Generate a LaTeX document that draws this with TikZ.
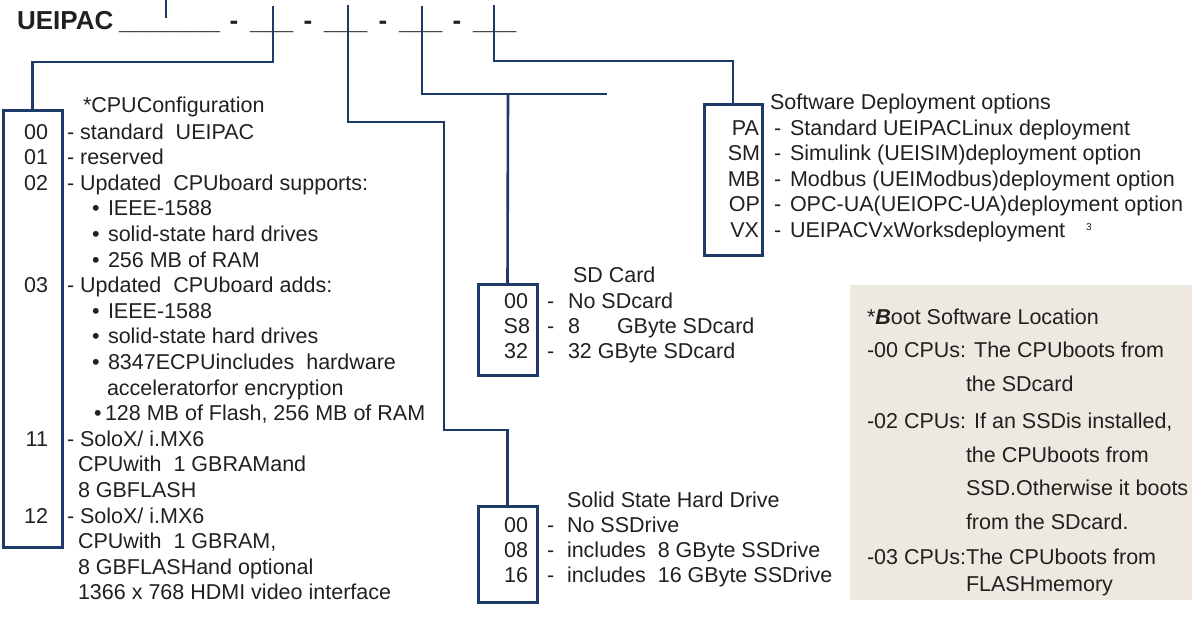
\documentclass[tikz,border=0pt]{standalone}
\usepackage{fontspec}
\setmainfont{Liberation Sans}
\definecolor{navy}{RGB}{30,58,105}
\definecolor{ink}{RGB}{35,31,32}
\definecolor{beige}{RGB}{237,233,224}
\begin{document}
\begin{tikzpicture}[x=1pt,y=-1pt,
  conn/.style={draw=navy, line width=2.6pt},
  codebox/.style={draw=navy, line width=3pt, inner sep=0pt, outer sep=0pt, anchor=north west},
  txt/.style={anchor=base west, inner sep=0pt, outer sep=0pt, text=ink, font=\fontsize{21.5}{25}\selectfont},
  code/.style={anchor=base east, inner sep=0pt, outer sep=0pt, text=ink, font=\fontsize{21.5}{25}\selectfont},
  ttl/.style={anchor=base west, inner sep=0pt, outer sep=0pt, text=ink, font=\fontsize{26}{30}\selectfont\bfseries}]
\useasboundingbox (0,0) rectangle (1196,626);

% title
\node[ttl] (ttl) at (17,30) {UEIPAC};
\node[ttl] (ua) at (119,30) {\_\_\_\_\_\_\_};
\node[ttl, anchor=base] (h1) at (234,30) {-};
\node[ttl] (ub) at (250,30) {\_\_\_};
\node[ttl, anchor=base] (h2) at (308,30) {-};
\node[ttl] (uc) at (324,30) {\_\_\_};
\node[ttl, anchor=base] (h3) at (383,30) {-};
\node[ttl] (ud) at (399,30) {\_\_\_};
\node[ttl, anchor=base] (h4) at (457,30) {-};
\node[ttl] (ue) at (473,30) {\_\_\_};

% boxes
\node[codebox, minimum width=59pt, minimum height=437pt] (cpubox) at (3,110) {};
\node[codebox, minimum width=59pt, minimum height=91pt] (sdbox) at (478,284) {};
\node[codebox, minimum width=59pt, minimum height=96pt] (ssdbox) at (478,506) {};
\node[codebox, minimum width=58pt, minimum height=151pt] (swbox) at (704,104) {};
\node[fill=beige, inner sep=0pt, outer sep=0pt, anchor=north west, minimum width=342pt, minimum height=315pt] (bootbox) at (850,285) {};

% connectors
\coordinate (t0a) at (166,0);
\coordinate (t0b) at (166,18);
\coordinate (t1) at (273,6);
\coordinate (t2) at (348,5);
\coordinate (t3) at (422,6);
\coordinate (t4) at (494,5);
\coordinate (sdend) at (607,94);
\coordinate (sdjoin) at (508,94);
\draw[conn] (t0a) -- (t0b);
\draw[conn] (t1) -- (273,62) -| (cpubox.north);
\draw[conn] (t2) -- (348,122) -- (444,122) -- (444,430) -| (ssdbox.north);
\draw[conn] (t3) -- (422,94) -- (sdend);
\draw[conn] (sdjoin) -- (sdbox.north);
\draw[conn] (t4) -- (494,61) -| (swbox.north);

% CPU configuration
\node[txt] (cpuhead) at (83,112.5) {*CPUConfiguration};
\node[code] (n00) at (48,139) {00};
\node[txt] (c0) at (67,139) {- standard\ \ UEIPAC};
\node[code] (n01) at (48,164.6) {01};
\node[txt] (c1) at (67,164.6) {- reserved};
\node[code] (n02) at (48,190.2) {02};
\node[txt] (c2) at (67,190.2) {- Updated\ \ CPUboard supports:};
\node[txt] (b3) at (92,215.8) {•};
\node[txt] (c3) at (108,215.8) {IEEE-1588};
\node[txt] (b4) at (92,241.4) {•};
\node[txt] (c4) at (108,241.4) {solid-state hard drives};
\node[txt] (b5) at (92,267) {•};
\node[txt] (c5) at (108,267) {256 MB of RAM};
\node[code] (n03) at (48,292.6) {03};
\node[txt] (c6) at (67,292.6) {- Updated\ \ CPUboard adds:};
\node[txt] (b7) at (92,318.2) {•};
\node[txt] (c7) at (108,318.2) {IEEE-1588};
\node[txt] (b8) at (92,343.8) {•};
\node[txt] (c8) at (108,343.8) {solid-state hard drives};
\node[txt] (b9) at (92,369.4) {•};
\node[txt] (c9) at (108,369.4) {8347ECPUincludes\ \ hardware};
\node[txt] (c10) at (107,395) {acceleratorfor encryption};
\node[txt] (b11) at (94,420.6) {•};
\node[txt] (c11) at (105,420.6) {128 MB of Flash, 256 MB of RAM};
\node[code] (n11) at (48,446.2) {11};
\node[txt] (c12) at (67,446.2) {- SoloX/ i.MX6};
\node[txt] (c13) at (78,471.8) {CPUwith\ \ 1 GBRAMand};
\node[txt] (c14) at (78,497.4) {8 GBFLASH};
\node[code] (n12) at (48,523) {12};
\node[txt] (c15) at (67,523) {- SoloX/ i.MX6};
\node[txt] (c16) at (78,548.6) {CPUwith\ \ 1 GBRAM,};
\node[txt] (c17) at (78,574.2) {8 GBFLASHand optional};
\node[txt] (c18) at (78,599.8) {1366 x 768 HDMI video interface};

% SD card
\node[txt] (sdhead) at (573,282) {SD Card};
\node[code] (s00) at (528,308) {00};
\node[txt] (sd0d) at (547,308) {-};
\node[txt] (sd0) at (568,308) {No SDcard};
\node[code] (sS8) at (530,333) {S8};
\node[txt] (sd1d) at (547,333) {-};
\node[txt] (sd1a) at (568,333) {8};
\node[txt] (sd1) at (617,333) {GByte SDcard};
\node[code] (s32) at (528,358) {32};
\node[txt] (sd2d) at (547,358) {-};
\node[txt] (sd2) at (568,358) {32 GByte SDcard};

% SSD
\node[txt] (ssdhead) at (567,507) {Solid State Hard Drive};
\node[code] (d00) at (528,532) {00};
\node[txt] (ssd0d) at (547,532) {-};
\node[txt] (ssd0) at (567,532) {No SSDrive};
\node[code] (d08) at (528,557) {08};
\node[txt] (ssd1d) at (547,557) {-};
\node[txt] (ssd1) at (567,557) {includes\ \ 8 GByte SSDrive};
\node[code] (d16) at (528,582) {16};
\node[txt] (ssd2d) at (547,582) {-};
\node[txt] (ssd2) at (567,582) {includes\ \ 16 GByte SSDrive};

% Software deployment
\node[txt] (swhead) at (770,109) {Software Deployment options};
\node[code] (wPA) at (759,135) {PA};
\node[txt] (w0d) at (774,135) {-};
\node[txt] (w0) at (790,135) {Standard UEIPACLinux deployment};
\node[code] (wSM) at (760,160.5) {SM};
\node[txt] (w1d) at (774,160.5) {-};
\node[txt] (w1) at (790,160.5) {Simulink (UEISIM)deployment option};
\node[code] (wMB) at (760,186) {MB};
\node[txt] (w2d) at (774,186) {-};
\node[txt] (w2) at (790,186) {Modbus (UEIModbus)deployment option};
\node[code] (wOP) at (760,211.5) {OP};
\node[txt] (w3d) at (774,211.5) {-};
\node[txt] (w3) at (790,211.5) {OPC-UA(UEIOPC-UA)deployment option};
\node[code] (wVX) at (759,237) {VX};
\node[txt] (w4d) at (774,237) {-};
\node[txt] (w4) at (790,237) {UEIPACVxWorksdeployment};
\node[txt, font=\fontsize{10}{12}\selectfont] (w4s) at (1086,230) {3};

% Boot software location
\node[txt] (bt0) at (867,324) {*\textbf{\textit{B}}oot Software Location};
\node[txt] (bt1) at (867,357) {-00 CPUs: The CPUboots from};
\node[txt] (bt2) at (966,391) {the SDcard};
\node[txt] (bt3) at (867,428) {-02 CPUs: If an SSDis installed,};
\node[txt] (bt4) at (966,462) {the CPUboots from};
\node[txt] (bt5) at (966,495) {SSD.Otherwise it boots};
\node[txt] (bt6) at (966,529) {from the SDcard.};
\node[txt] (bt7) at (867,564) {-03 CPUs:The CPUboots from};
\node[txt] (bt8) at (966,591) {FLASHmemory};
\end{tikzpicture}
\end{document}
